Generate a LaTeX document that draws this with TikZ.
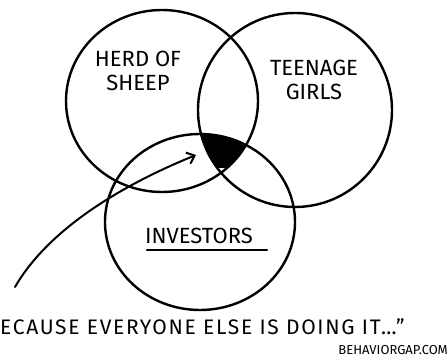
\documentclass[tikz,border=0pt]{standalone}
\usepackage{fontspec}
\setmainfont{Fira Sans}
\newfontfamily\quotefont[LetterSpace=8]{Fira Sans}
\usepackage{tikz}
\usetikzlibrary{arrows.meta}

\begin{document}
\begin{tikzpicture}
	[x=1pt,y=-1pt,line cap=round,
	ring/.style={line width=2.4pt},
	group text/.style={font=\fontsize{22}{24}\selectfont,align=center,inner sep=0pt},
	note text/.style={font=\quotefont\fontsize{21}{23}\selectfont,inner sep=0pt}]
	\useasboundingbox (0,0) rectangle (448,358) ;
	\fill[white] (0,0) rectangle (448,358) ;
	
	% the shaded overlap
	\begin{scope}
	\clip (162,101) ellipse [x radius=96pt,y radius=91pt] ;
	\clip (295,110) ellipse [x radius=97pt,y radius=97pt] ;
	\clip (200,222) ellipse [x radius=95pt,y radius=88pt] ;
	\fill (190,125) rectangle (260,168) ;
	\end{scope}
	
	% the three groups
	\draw [ring] (162,101) ellipse [x radius=96pt,y radius=91pt] ;
	\draw [ring] (295,110) ellipse [x radius=97pt,y radius=97pt] ;
	\draw [ring] (200,222) ellipse [x radius=95pt,y radius=88pt] ;
	
	\node [group text] (sheep) at (138,71) {HERD OF\\SHEEP} ;
	\node [group text] (girls) at (314,80) {TEENAGE\\GIRLS} ;
	\node [group text] (investors) at (199,236) {INVESTORS} ;
	\draw [line width=2.2pt] (147,250) -- (267,250) ;
	
	% arrow into the overlap
	\coordinate (from) at (15,287) ;
	\coordinate (to) at (196,155) ;
	\draw [line width=2pt,-{Straight Barb[length=7pt,width=12pt]}]
	(from) .. controls (45,235) and (110,190) .. (to) ;
	
	\node [note text,anchor=base west] (quote) at (0,335) {ECAUSE EVERYONE ELSE IS DOING IT\ldots\char"201D} ;
	\node [font=\fontsize{13}{14}\selectfont,inner sep=0pt,anchor=base east] (site) at (448,355) {BEHAVIORGAP.COM} ;
	
\end{tikzpicture}
\end{document}
